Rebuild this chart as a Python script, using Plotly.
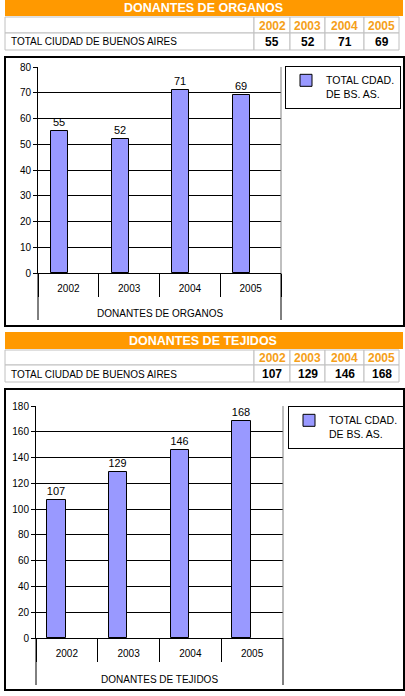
import plotly.graph_objects as go

# ---------------- data ----------------
years = ["2002", "2003", "2004", "2005"]
organos = [55, 52, 71, 69]
tejidos = [107, 129, 146, 168]
title_org = "DONANTES DE ORGANOS"
title_tej = "DONANTES DE TEJIDOS"
row_label = "TOTAL CIUDAD DE BUENOS AIRES"
legend_label = "TOTAL CDAD.<br>DE BS. AS."

W, H = 405, 696
FONT = "Liberation Sans, Arial, sans-serif"
ORANGE = "#FF9900"
YEAR_ORANGE = "#F5A01A"
BAR = "#9999FF"
GRID_T = "#C0C0C0"
COL_EDGES = [5, 254, 290, 325, 364, 399]


def px(x):
    return x / W


def py(y):
    return 1 - y / H


fig = go.Figure()
shapes = []
annotations = []

sections = [
    dict(title=title_org, values=organos, rows=(0, 16, 33, 50), xa="x", ya="y", xname="xaxis",
         yname="yaxis", legend="legend", box=(5, 57, 404, 326), plot=(38, 67, 281, 273), ymax=80,
         dtick=10, off=-0.29, bw=0.28, leg=(285, 66)),
    dict(title=title_tej, values=tejidos, rows=(332, 349, 365, 382), xa="x2", ya="y2", xname="xaxis2",
         yname="yaxis2", legend="legend2", box=(5, 389, 404, 690), plot=(36, 406, 283, 638), ymax=180,
         dtick=20, off=-0.32, bw=0.3, leg=(288, 406)),
]

layout_axes = {}
for s in sections:
    r0, r1, r2, r3 = s["rows"]
    # title bar
    shapes.append(dict(type="rect", xref="paper", yref="paper", x0=px(5), x1=px(403),
                       y0=py(r1), y1=py(r0), fillcolor=ORANGE, line=dict(width=0), layer="below"))
    annotations.append(dict(text="<b>%s</b>" % s["title"], xref="paper", yref="paper",
                            x=px(203), y=py((r0 + r1) / 2), showarrow=False, xanchor="center",
                            yanchor="middle", font=dict(family=FONT, size=12.5, color="white")))
    # table cells: header row (years) and value row
    header_texts = [""] + ["<b>%s</b>" % y for y in years]
    value_texts = [row_label] + ["<b>%d</b>" % v for v in s["values"]]
    for ci in range(len(COL_EDGES) - 1):
        cx0, cx1 = COL_EDGES[ci], COL_EDGES[ci + 1]
        for (ya0, ya1, txt, color, size) in [
            (r1 + 1, r2, header_texts[ci], YEAR_ORANGE, 12),
            (r2, r3, value_texts[ci], "black", 10 if ci == 0 else 12),
        ]:
            shapes.append(dict(type="rect", xref="paper", yref="paper", x0=px(cx0), x1=px(cx1),
                               y0=py(ya1), y1=py(ya0), line=dict(color=GRID_T, width=1),
                               fillcolor="white", layer="below"))
            if txt:
                annotations.append(dict(
                    text=txt, xref="paper", yref="paper",
                    x=px(cx0 + 4) if ci == 0 else px((cx0 + cx1) / 2), y=py((ya0 + ya1) / 2 + 0.5),
                    xanchor="left" if ci == 0 else "center", yanchor="middle", showarrow=False,
                    font=dict(family=FONT, size=size, color=color)))
    # chart box
    bx0, by0, bx1, by1 = s["box"]
    shapes.append(dict(type="rect", xref="paper", yref="paper", x0=px(bx0), x1=px(bx1),
                       y0=py(by1), y1=py(by0), line=dict(color="black", width=2), layer="below"))
    # bars
    fig.add_trace(go.Bar(
        x=years, y=s["values"], xaxis=s["xa"], yaxis=s["ya"],
        name=legend_label, legend=s["legend"],
        marker=dict(color=BAR, line=dict(color="black", width=1)),
        text=s["values"], textposition="outside", cliponaxis=False,
        textfont=dict(family=FONT, size=11, color="black"),
        offset=s["off"], width=s["bw"],
    ))
    x0, y0, x1, y1 = s["plot"]
    layout_axes[s["xname"]] = dict(
        type="category", domain=[px(x0), px(x1)], anchor=s["ya"], range=[-0.5, 3.5],
        showline=True, linecolor="black", linewidth=1, ticks="outside", tickson="boundaries",
        ticklen=23, tickcolor="black", ticklabelstandoff=6,
        tickfont=dict(family=FONT, size=10, color="black"), showgrid=False, fixedrange=True,
    )
    layout_axes[s["yname"]] = dict(
        domain=[py(y1), py(y0)], anchor=s["xa"], range=[0, s["ymax"]], dtick=s["dtick"],
        showline=True, linecolor="black", linewidth=1, ticks="outside", ticklen=4,
        tickcolor="black", showgrid=True, gridcolor="black", gridwidth=1, zeroline=False,
        tickfont=dict(family=FONT, size=10, color="black"), fixedrange=True,
    )
    # grey right border of plot area
    shapes.append(dict(type="line", xref="%s domain" % s["xa"], yref="%s domain" % s["ya"],
                       x0=1, x1=1, y0=0, y1=1, line=dict(color="#808080", width=1)))
    # outer group lines of the category axis and group label
    for xd in (0, 1):
        shapes.append(dict(type="line", xref="%s domain" % s["xa"], yref="paper",
                           x0=xd, x1=xd, y0=py(y1 + 47), y1=py(y1), line=dict(color="black", width=1)))
    annotations.append(dict(text=s["title"], xref="%s domain" % s["xa"], yref="paper",
                            x=0.5, y=py(y1 + 41), xanchor="center", yanchor="middle",
                            showarrow=False, font=dict(family=FONT, size=10, color="black")))
    lx, ly = s["leg"]
    layout_axes[s["legend"]] = dict(
        x=px(lx), y=py(ly), xanchor="left", yanchor="top", bordercolor="black", borderwidth=1,
        bgcolor="white", font=dict(family=FONT, size=10.5, color="black"), valign="top",
        itemwidth=30, tracegroupgap=0,
    )

fig.update_layout(
    width=W, height=H, margin=dict(l=0, r=0, t=0, b=0, pad=0, autoexpand=False),
    paper_bgcolor="white", plot_bgcolor="white",
    bargap=0, showlegend=True,
    shapes=shapes, annotations=annotations,
    font=dict(family=FONT, size=10, color="black"),
    **layout_axes,
)

fig.write_html("out.html")
